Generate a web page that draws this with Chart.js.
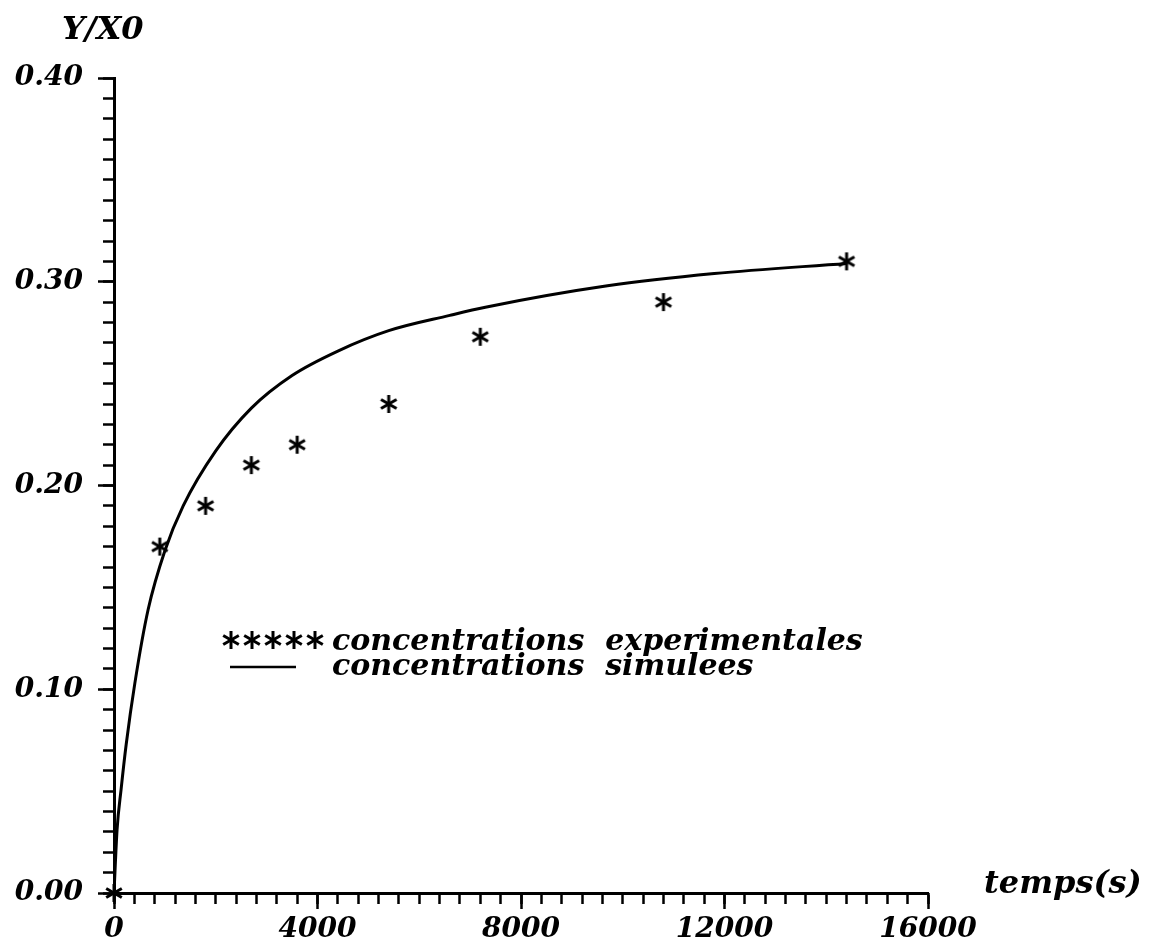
<!DOCTYPE html>
<html>
<head>
<meta charset="utf-8">
<title>Y/X0 - temps(s)</title>
<script src="https://cdn.jsdelivr.net/npm/chart.js@4/dist/chart.umd.min.js"></script>
<style>
    body { margin: 0; background: #fff; }
    canvas { display: block; }
</style>
</head>
<body>
<canvas id="concChart" width="1150" height="950"></canvas>
<script>
// measured concentrations (time in s, Y/X0)
const expTimes = [0, 900, 1800, 2700, 3600, 5400, 7200, 10800, 14400];
const expValues = [0, 0.17, 0.19, 0.21, 0.22, 0.24, 0.273, 0.29, 0.31];

// model output
const simTimes = [0, 60, 140, 240, 410, 670, 1000, 1360, 2000, 2700, 3500, 4400, 5400, 6600, 7300, 9700, 11800, 14400];
const simValues = [0, 0.031, 0.051, 0.073, 0.103, 0.139, 0.168, 0.190, 0.217, 0.238, 0.254, 0.266, 0.276, 0.2835, 0.2875, 0.298, 0.304, 0.309];

const xMajorTicks = [0, 4000, 8000, 12000, 16000];

const legendLabels = ['concentrations  experimentales', 'concentrations  simulees'];
const yTitle = 'Y/X0';
const xTitle = 'temps(s)';

const FAMILY = 'DejaVu Serif';
const TICK_FONT = { family: FAMILY, size: 28, style: 'italic', weight: 'bold' };
const titleCss = `italic bold 32px "${FAMILY}"`;
const keyCss = `italic bold 30px "${FAMILY}"`;

// six-ray asterisk used as point style
function makeAsterisk(size, width) {
    const c = document.createElement('canvas');
    c.width = size + 4;
    c.height = size + 4;
    const g = c.getContext('2d');
    g.strokeStyle = '#000';
    g.lineWidth = width;
    const cx = c.width / 2, cy = c.height / 2, r = size / 2;
    [90, 30, 150].forEach(deg => {
        const a = deg * Math.PI / 180;
        g.beginPath();
        g.moveTo(cx - r * Math.cos(a), cy - r * Math.sin(a));
        g.lineTo(cx + r * Math.cos(a), cy + r * Math.sin(a));
        g.stroke();
    });
    return c;
}
const asterisk = makeAsterisk(18, 3);

const isMajor = (v, list) => list.some(m => Math.abs(m - v) < 1e-6);

// axis titles and the in-plot key
const textPlugin = {
    id: 'plotText',
    afterDraw(chart) {
        const ctx = chart.ctx;
        const { x, y } = chart.scales;
        ctx.save();
        ctx.fillStyle = '#000';
        ctx.textBaseline = 'alphabetic';
        ctx.textAlign = 'left';
        ctx.font = titleCss;
        ctx.fillText(yTitle, 62, 39);
        ctx.fillText(xTitle, x.right + 56, y.bottom);

        // key: row 1 asterisks, row 2 solid line
        const keyX = 220, row1 = 650, row2 = 675, textX = 332;
        ctx.font = keyCss;
        for (let i = 0; i < 5; i++) {
            ctx.drawImage(asterisk, keyX + i * 21, row1 - 21);
        }
        ctx.fillText(legendLabels[0], textX, row1);
        ctx.strokeStyle = '#000';
        ctx.lineWidth = 2.5;
        ctx.beginPath();
        ctx.moveTo(230, row2 - 8);
        ctx.lineTo(296, row2 - 8);
        ctx.stroke();
        ctx.fillText(legendLabels[1], textX, row2);
        ctx.restore();
    }
};

const axisLine = { display: true, color: '#000', width: 3 };

new Chart(document.getElementById('concChart'), {
    type: 'scatter',
    data: {
        datasets: [
            {
                label: legendLabels[0],
                data: expTimes.map((t, i) => ({ x: t, y: expValues[i] })),
                pointStyle: asterisk,
                pointRadius: 10,
                showLine: false,
                clip: false
            },
            {
                label: legendLabels[1],
                type: 'line',
                data: simTimes.map((t, i) => ({ x: t, y: simValues[i] })),
                borderColor: '#000',
                borderWidth: 3,
                pointRadius: 0,
                cubicInterpolationMode: 'monotone',
                fill: false
            }
        ]
    },
    options: {
        responsive: false,
        animation: false,
        devicePixelRatio: 1,
        layout: { padding: { top: 78, right: 222, left: 0, bottom: 0 } },
        plugins: {
            legend: { display: false },
            tooltip: { enabled: false }
        },
        scales: {
            x: {
                type: 'linear',
                min: 0,
                max: 16000,
                afterFit(scale) { scale.height = 57; },
                border: axisLine,
                grid: { drawOnChartArea: false, color: '#000', tickLength: 16, tickWidth: 2.5,
                        tickColor: c => isMajor(c.tick.value, xMajorTicks) ? '#000' : 'rgba(0,0,0,0)' },
                ticks: {
                    stepSize: 4000,
                    color: '#000',
                    font: TICK_FONT,
                    padding: 4,
                    maxRotation: 0,
                    autoSkip: false,
                    callback: v => String(v)
                }
            },
            xMinor: {
                type: 'linear',
                axis: 'x',
                position: { y: 0 },
                min: 0,
                max: 16000,
                border: { display: false },
                grid: { drawOnChartArea: false, color: '#000', tickLength: 11, tickWidth: 2.5 },
                ticks: { stepSize: 400, display: false, autoSkip: false, maxTicksLimit: 1000 }
            },
            y: {
                type: 'linear',
                min: 0,
                max: 0.4,
                afterFit(scale) { scale.width = 114; },
                border: axisLine,
                grid: { drawOnChartArea: false, color: '#000', tickLength: 16, tickWidth: 2.5 },
                ticks: {
                    stepSize: 0.1,
                    color: '#000',
                    font: TICK_FONT,
                    padding: 15,
                    autoSkip: false,
                    callback: v => v.toFixed(2)
                }
            },
            yMinor: {
                type: 'linear',
                axis: 'y',
                position: { x: 0 },
                min: 0,
                max: 0.4,
                border: { display: false },
                grid: { drawOnChartArea: false, color: '#000', tickLength: 11, tickWidth: 2.5 },
                ticks: { stepSize: 0.01, display: false, autoSkip: false, maxTicksLimit: 1000 }
            }
        }
    },
    plugins: [textPlugin]
});
</script>
</body>
</html>
